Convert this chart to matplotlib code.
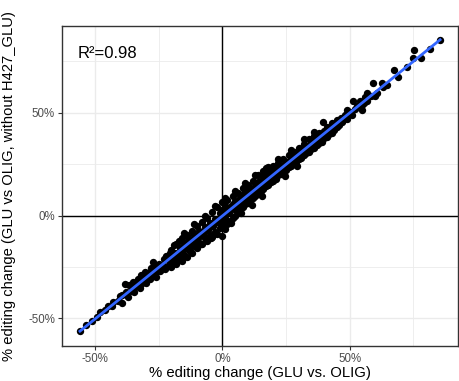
import numpy as np
import matplotlib.pyplot as plt
from matplotlib.ticker import FixedLocator, FuncFormatter

plt.rcParams['font.family'] = ['Liberation Sans', 'DejaVu Sans']

# % editing change, GLU vs OLIG (x) and GLU vs OLIG without H427_GLU (y)
x_low = [-55.9, -53.5, -51.0, -49.3, -48.0, -46.1, -45.0, -43.5, -42.8, -41.0,
         -40.0, -39.5, -38.2, -39.5]
y_low = [-56.4, -53.2, -51.5, -49.5, -47.2, -45.9, -44.0, -43.8, -41.9, -41.5,
         -39.0, -42.7, -33.4, -38.6]

x_mid1 = [-38, -37, -36.5, -36, -35, -34.5, -34, -33, -32.5, -32, -31, -30.5,
          -30, -29, -28.5, -28, -27, -26.5, -26, -25, -24.5, -24, -23, -22.5,
          -22, -21, -20.5, -20, -27.1]
y_mid1 = [-37, -39.5, -34, -36.5, -32.5, -37, -33, -31, -35.5, -29, -32, -27.5,
          -33, -28, -31, -25.5, -29, -24, -30, -23.5, -27, -25, -21, -26,
          -19.5, -24, -18, -22, -22.4]

x_core = [-20, -20, -19, -19, -18, -18, -18, -17, -17, -16, -16, -16, -15, -15,
          -14, -14, -14, -13, -13, -12, -12, -12, -11, -11, -10, -10, -10, -9,
          -9, -8, -8, -8, -7, -7, -6, -6, -6, -5, -5, -4, -4, -4, -3, -3, -2,
          -2, -2, -1, -1, 0, 0, 0, 0, 1, 1, 1, 2, 2, 2, 3, 3, 4, 4, 4, 5, 5,
          6, 6, 6, 7, 7, 8, 8, 8, 9, 9, 10, 10, 10, 11, 11, 12, 12, 12, 13, 13,
          14, 14, 14, 15, 15, 16, 16, 16, 17, 17, 18, 18, 18, 19, 19, 20, 20]
y_core = [-25, -17, -21, -14.5, -23.5, -19, -14, -20.5, -12.5, -22, -16, -11,
          -19, -13.5, -20, -15.5, -9.5, -17, -11.5, -18, -13, -7.5, -15, -9.5,
          -16, -11, -5, -13.5, -7.5, -14, -9, -3, -11, -5.5, -12.5, -7, -1,
          -9.5, -3.5, -10.5, -5, 1.5, -8, -1.5, -9, -3, 4, -6, 1, -10, -4, 2.5,
          6.5, -6.5, -1, 4.5, -4, 2, 7.5, -2.5, 4, -1, 5.5, 9.5, 0, 7, 1.5, 5,
          11, 2.5, 8.5, 4, 10, 13.5, 5.5, 11.5, 6, 9.5, 15, 7.5, 13, 8.5, 11.5,
          17, 9.5, 14.5, 10.5, 16.5, 19.5, 12, 17, 13, 19, 21.5, 14.5, 20, 15,
          18.5, 23.5, 16.5, 21.5, 17, 24]

x_mid2 = [21, 21, 22, 22, 23, 23, 24, 24, 25, 25, 26, 26, 27, 27, 28, 28, 29, 29,
          30, 30, 31, 31, 32, 32, 33, 33, 34, 34, 35, 35, 36, 36, 37, 37, 38, 38,
          39, 39.6, 40, 40, 41, 41, 42, 42, 43, 43, 44, 44, 45, 45]
y_mid2 = [18, 23, 19.5, 25.5, 20, 24, 21.5, 27.5, 22, 26, 23.5, 29.5, 24, 28,
          25.5, 31, 26, 30, 27.5, 33, 28, 31.5, 29.5, 35, 30.5, 33.5, 31, 37,
          32.5, 35.5, 33, 38.5, 34.5, 37, 35.5, 40, 36, 45.3, 37.5, 41, 38, 43,
          39.5, 42.5, 40, 45, 41.5, 44, 43, 46.5]

x_high = [46, 46.5, 47, 48, 48.9, 49, 50, 51.4, 51, 52, 54.8, 54.1, 55, 56, 57,
          56.7, 59.3, 60, 60.6, 62.6, 63, 64.5, 67.4, 69, 72.4, 74.8, 75.4, 78,
          81.6, 85.5]
y_high = [44, 47.5, 45.5, 49, 51.5, 47, 50.5, 55.5, 49, 52, 51.5, 55.5, 54,
          57.5, 55.5, 59.6, 64.5, 58, 59.6, 64.5, 62.5, 63.5, 70.9, 67.5, 72.5,
          76.6, 80.7, 76.5, 81.0, 85.2]

# points packed along the centre of the band
x_fill = [-34.5, -33.5, -32, -30.5, -29, -27.5, -26, -24.5, -23, -21.5,
          -19.5, -18.5, -17.5, -16.5, -15.5, -14.5, -13.5, -12.5, -11.5, -10.5,
          -9.5, -8.5, -7.5, -6.5, -5.5, -4.5, -3.5, -2.5, -1.5, -0.5,
          0.5, 1.5, 2.5, 3.5, 4.5, 5.5, 6.5, 7.5, 8.5, 9.5, 10.5, 11.5, 12.5,
          13.5, 14.5, 15.5, 16.5, 17.5, 18.5, 19.5, 20.5, 21.5, 22.5, 23.5,
          24.5, 25.5, 26.5, 27.5, 28.5, 29.5, 30.5, 31.5, 32.5, 33.5, 34.5,
          35.5, 36.5, 37.5, 38.5, 39.5, 40.5, 41.5, 42.5, 43.5, 44.5,
          47.5, 50.5, 53, 55.5, 58.5]
y_fill = [-35.5, -33, -33.5, -30, -30.5, -27, -27.5, -24, -24.5, -21,
          -20.5, -18, -18.5, -16, -17, -13.5, -14.5, -12, -13, -10,
          -11, -8, -9, -6, -7, -4, -5, -2, -3, 0,
          -1, 2, 1, 4, 3, 6, 5, 8, 7, 10, 9.5, 12, 11,
          14, 13, 16, 15.5, 18, 17, 20, 19.5, 22, 21, 24,
          23, 26, 25, 28, 27, 30, 29.5, 32, 31, 34, 33.5,
          36, 35, 38, 37, 40, 39, 42, 41, 44, 43.5,
          46.5, 50, 53.5, 55, 58]

# scattered points on the outer edges of the band
x_edge = [-15, -11, -7, -3, 1, 5, 9, 13, 17, 22, 27, 32, 36, -16.5, -12.5,
          -8.5, -4.5, 3.5, 7.5, 11.5, 15.5, 24.5, 29.5]
y_edge = [-8.5, -4, 0, 4.5, 8.5, 12, 16, 19.5, 23, 27.5, 32, 37, 40.5, -21.5,
          -17.5, -14, -11, -3.5, 1, 5, 9.5, 19, 24]

x = np.array(x_low + x_mid1 + x_core + x_mid2 + x_high + x_fill + x_edge,
             dtype=float)
y = np.array(y_low + y_mid1 + y_core + y_mid2 + y_high + y_fill + y_edge,
             dtype=float)

fig = plt.figure(figsize=(4.59, 3.81), dpi=100)
ax = fig.add_axes([0.135, 0.092, 0.863, 0.840])

# theme_bw style grid
ax.set_axisbelow(True)
ax.xaxis.set_major_locator(FixedLocator([-50, 0, 50]))
ax.yaxis.set_major_locator(FixedLocator([-50, 0, 50]))
ax.xaxis.set_minor_locator(FixedLocator([-25, 25, 75]))
ax.yaxis.set_minor_locator(FixedLocator([-25, 25, 75]))
ax.grid(which='major', color='#ebebeb', linewidth=1.0)
ax.grid(which='minor', color='#ebebeb', linewidth=0.6)
pct = FuncFormatter(lambda v, p: f'{v:.0f}%')
ax.xaxis.set_major_formatter(pct)
ax.yaxis.set_major_formatter(pct)

ax.axhline(0, color='black', linewidth=1.0, zorder=1)
ax.axvline(0, color='black', linewidth=1.0, zorder=1)

ax.scatter(x, y, s=28, color='black', linewidths=0, zorder=2)

k, b = np.polyfit(x, y, 1)
xs = np.array([x.min(), x.max()])
ax.plot(xs, k * xs + b, color='#3366FF', linewidth=2.0, zorder=3)

rng = x.max() - x.min()
ax.set_xlim(x.min() - 0.05 * rng, x.max() + 0.05 * rng)
rng = y.max() - y.min()
ax.set_ylim(y.min() - 0.05 * rng, y.max() + 0.05 * rng)

for s in ax.spines.values():
    s.set_color('#333333')
    s.set_linewidth(1.0)
ax.tick_params(which='major', length=3, color='#333333', labelsize=8.3,
               labelcolor='#4d4d4d', pad=2)
ax.tick_params(which='minor', length=0)

ax.text(0.04, 0.915, 'R²=0.98', transform=ax.transAxes, fontsize=12,
        va='center', ha='left')
ax.set_xlabel('% editing change (GLU vs. OLIG)', fontsize=10.7, labelpad=0.5)
ax.yaxis.set_label_coords(-0.115, 0.48)
ax.set_ylabel('% editing change (GLU vs OLIG, without H427_GLU)',
              fontsize=10.6)

fig.savefig('out.png', dpi=100)
